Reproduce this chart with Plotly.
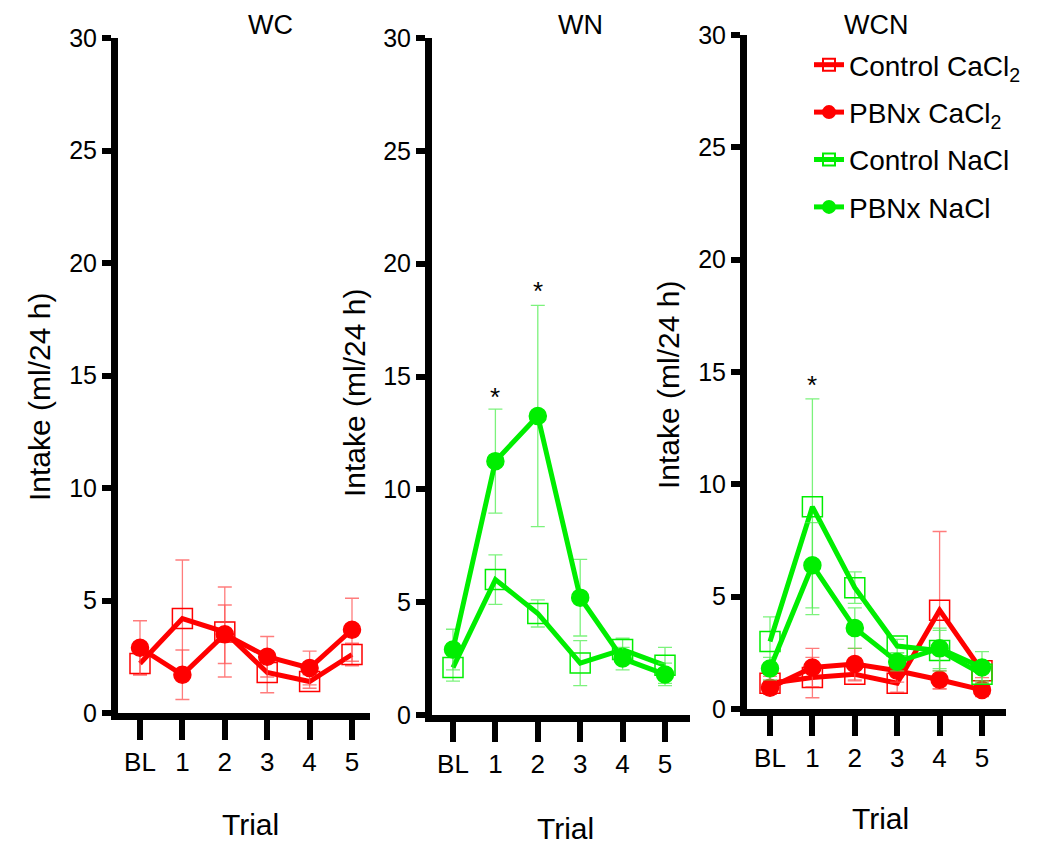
import plotly.graph_objects as go

categories = ["BL", "1", "2", "3", "4", "5"]
xpos = [0, 1, 2, 3, 4, 5]

# Panel WC
wc_ctrl_ca = [2.2, 4.2, 3.6, 1.8, 1.4, 2.6]
wc_ctrl_ca_err = [0.5, 2.6, 2.0, 0.9, 0.3, 0.5]
wc_pbnx_ca = [2.9, 1.7, 3.5, 2.5, 2.0, 3.7]
wc_pbnx_ca_err = [1.2, 1.1, 1.3, 0.9, 0.75, 1.4]

# Panel WN
wn_ctrl_na = [2.1, 6.0, 4.5, 2.3, 2.9, 2.2]
wn_ctrl_na_err = [0.6, 1.1, 0.6, 1.0, 0.5, 0.8]
wn_pbnx_na = [2.9, 11.25, 13.25, 5.2, 2.5, 1.8]
wn_pbnx_na_err = [0.9, 2.3, 4.9, 1.7, 0.5, 0.5]

# Panel WCN
wcn_ctrl_ca = [1.15, 1.4, 1.55, 1.15, 4.4, 1.7]
wcn_ctrl_ca_err = [0.3, 0.9, 0.3, 0.4, 3.5, 0.3]
wcn_pbnx_ca = [0.95, 1.85, 2.0, 1.7, 1.3, 0.85]
wcn_pbnx_ca_err = [0.3, 0.85, 0.7, 0.5, 0.4, 0.3]
wcn_ctrl_na = [3.0, 9.0, 5.4, 2.8, 2.6, 1.55]
wcn_ctrl_na_err = [1.1, 4.8, 0.7, 0.3, 0.9, 0.3]
wcn_pbnx_na = [1.8, 6.4, 3.6, 2.1, 2.7, 1.85]
wcn_pbnx_na_err = [0.5, 1.9, 0.9, 0.4, 0.9, 0.7]

# significance markers (panel, x, y)
stars = [("2", 1, 14.1), ("2", 2, 18.8), ("3", 1, 14.4)]

RED = "#ff0000"
GREEN = "#00ee00"
RED_E = "rgba(255,80,80,0.75)"
GREEN_E = "rgba(80,238,80,0.75)"
FONT = "Liberation Sans, Arial, sans-serif"

# page body margin offset (figure is drawn 8px in from the page corner)
OFF = 8
W, H = 1034, 843


def fx(px):
    return (px - OFF) / W


def fy(py):
    return 1 - (py - OFF) / H


fig = go.Figure()


def add(y, err, color, ecolor, filled, name, ax, showlegend):
    xa = "x" if ax == "1" else "x" + ax
    ya = "y" if ax == "1" else "y" + ax
    fig.add_trace(go.Scatter(
        x=xpos, y=y, mode="lines+markers", name=name,
        xaxis=xa, yaxis=ya, showlegend=showlegend, legendgroup=name,
        line=dict(color=color, width=5),
        marker=dict(
            symbol="circle" if filled else "square-open",
            size=17 if filled else 20,
            color=color,
            line=dict(color=color, width=1.5),
        ),
        error_y=dict(type="data", array=err, visible=True, color=ecolor,
                     thickness=1.3, width=7),
        cliponaxis=False,
    ))


# WC
add(wc_ctrl_ca, wc_ctrl_ca_err, RED, RED_E, False, "Control CaCl<sub>2</sub>", "1", False)
add(wc_pbnx_ca, wc_pbnx_ca_err, RED, RED_E, True, "PBNx CaCl<sub>2</sub>", "1", False)
# WN
add(wn_ctrl_na, wn_ctrl_na_err, GREEN, GREEN_E, False, "Control NaCl", "2", False)
add(wn_pbnx_na, wn_pbnx_na_err, GREEN, GREEN_E, True, "PBNx NaCl", "2", False)
# WCN
add(wcn_ctrl_ca, wcn_ctrl_ca_err, RED, RED_E, False, "Control CaCl<sub>2</sub>", "3", True)
add(wcn_pbnx_ca, wcn_pbnx_ca_err, RED, RED_E, True, "PBNx CaCl<sub>2</sub>", "3", True)
add(wcn_ctrl_na, wcn_ctrl_na_err, GREEN, GREEN_E, False, "Control NaCl", "3", True)
add(wcn_pbnx_na, wcn_pbnx_na_err, GREEN, GREEN_E, True, "PBNx NaCl", "3", True)

# panel geometry in page pixels: y-axis x, BL x, "5" x, x-axis end, y of 0, y of 30
panels = {
    "1": (118, 140, 352, 370, 713, 38),
    "2": (432, 453, 665, 690, 715, 38),
    "3": (747, 770, 982, 1006, 709, 35),
}

layout = dict(
    width=W, height=H,
    margin=dict(l=0, r=0, t=0, b=0, pad=0, autoexpand=False),
    plot_bgcolor="white", paper_bgcolor="white",
    font=dict(family=FONT, color="black"),
    template="none",
)
for k, (xa_px, bl_px, five_px, end_px, y0, y30) in panels.items():
    step = (five_px - bl_px) / 5.0
    xname = "xaxis" if k == "1" else "xaxis" + k
    yname = "yaxis" if k == "1" else "yaxis" + k
    layout[xname] = dict(
        domain=[fx(xa_px), fx(end_px)],
        anchor="y" if k == "1" else "y" + k,
        range=[(xa_px - bl_px) / step, 5 + (end_px - five_px) / step],
        tickvals=xpos, ticktext=categories,
        showline=True, linewidth=7, linecolor="black",
        ticks="outside", ticklen=20, tickwidth=6, tickcolor="black",
        showgrid=False, zeroline=False, automargin=False,
        tickfont=dict(family=FONT, size=26, color="black"),
    )
    layout[yname] = dict(
        domain=[fy(y0), fy(y30)],
        anchor="x" if k == "1" else "x" + k,
        range=[0, 30], tickvals=[0, 5, 10, 15, 20, 25, 30],
        showline=True, linewidth=7, linecolor="black",
        ticks="outside", ticklen=9, tickwidth=6, tickcolor="black",
        showgrid=False, zeroline=False, automargin=False,
        tickfont=dict(family=FONT, size=25, color="black"),
    )

layout["legend"] = dict(
    x=fx(809), y=fy(40), xanchor="left", yanchor="top",
    bgcolor="rgba(0,0,0,0)", font=dict(family=FONT, size=28, color="black"),
    itemsizing="constant", borderwidth=0, tracegroupgap=8,
)
fig.update_layout(**layout)

annotations = []
titles = [("WC", 270, 8), ("WN", 580, 8), ("WCN", 876, 8)]
for t, px, py in titles:
    annotations.append(dict(text=t, x=fx(px), y=fy(py), xref="paper", yref="paper",
                            xanchor="center", yanchor="top",
                            showarrow=False, font=dict(family=FONT, size=27)))
trials = [(250, 824), (565, 828), (880, 818)]
for px, py in trials:
    annotations.append(dict(text="Trial", x=fx(px), y=fy(py), xref="paper", yref="paper",
                            xanchor="center", yanchor="middle",
                            showarrow=False, font=dict(family=FONT, size=30)))
ytitles = [(40, 397), (354, 393), (668, 385)]
for px, py in ytitles:
    annotations.append(dict(text="Intake (ml/24 h)", x=fx(px), y=fy(py), xref="paper",
                            yref="paper", xanchor="center", yanchor="middle",
                            showarrow=False, textangle=-90,
                            font=dict(family=FONT, size=30)))
for k, sx, sy in stars:
    annotations.append(dict(text="*", x=sx, y=sy, xref="x" + k, yref="y" + k,
                            showarrow=False, font=dict(family=FONT, size=26)))
fig.update_layout(annotations=annotations)

fig.write_html("out.html")
